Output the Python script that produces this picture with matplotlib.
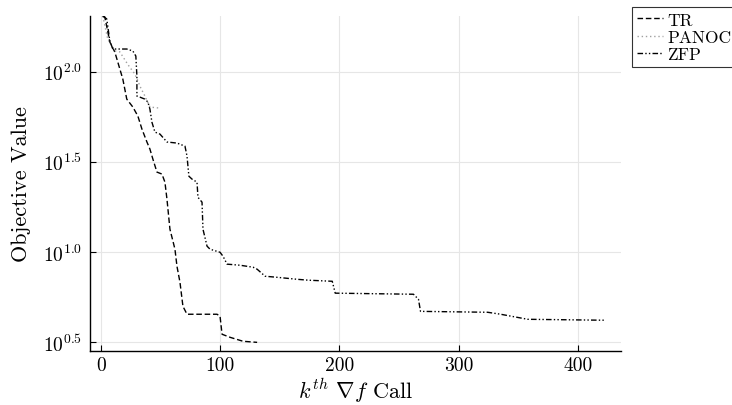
import numpy as np
import matplotlib
matplotlib.use("Agg")
import matplotlib.pyplot as plt

plt.rcParams['font.family'] = ['cmr10', 'DejaVu Serif']
plt.rcParams['mathtext.fontset'] = 'cm'
plt.rcParams['axes.formatter.use_mathtext'] = True

# ---- data (k-th gradient call, log10 objective value) ----
tr_x = [1.7, 3.4, 7.6, 11.8, 18.5, 21.8, 26.9, 31.1, 34.5, 38.7, 41.2, 43.7, 47.1,
        51.3, 53.8, 55.5, 58.0, 62.2, 63.9, 66.4, 68.9, 72.3, 97.5, 100, 101.7,
        108.4, 119.3, 131.1]
tr_logy = [2.309, 2.304, 2.165, 2.109, 1.959, 1.848, 1.804, 1.754, 1.682, 1.610,
           1.571, 1.515, 1.443, 1.432, 1.387, 1.293, 1.126, 1.015, 0.920, 0.832,
           0.698, 0.654, 0.654, 0.643, 0.543, 0.526, 0.504, 0.498]

panoc_x = [1.7, 5.9, 11.8, 16, 22.7, 28.6, 31.1, 32.8, 37, 41.2, 49.6]
panoc_logy = [2.309, 2.18, 2.115, 2.11, 2.04, 1.987, 1.95, 1.92, 1.865, 1.804, 1.798]

zfp_x = [1.7, 5.0, 7.6, 10.1, 14.3, 21.8, 26.9, 29.4, 30.3, 30.3, 32.8, 37, 39.5,
         41.2, 42.9, 45.4, 49.6, 55.5, 63.9, 70.6, 72.3, 73.9, 76.5, 80.7, 81.5,
         84.9, 85.7, 89.1, 91.6, 100, 102.5, 105.9, 116.8, 127.7, 131.1, 137.8,
         147.9, 164.7, 174, 194.1, 196.6, 262.2, 266.4, 268.1, 324.4, 335.3, 358,
         419.3, 423.5]
zfp_logy = [2.309, 2.293, 2.171, 2.126, 2.126, 2.126, 2.115, 2.087, 1.976, 1.865,
            1.859, 1.848, 1.832, 1.793, 1.72, 1.665, 1.654, 1.61, 1.604, 1.587,
            1.532, 1.42, 1.404, 1.387, 1.303, 1.276, 1.126, 1.032, 1.015, 0.998,
            0.976, 0.932, 0.926, 0.915, 0.904, 0.865, 0.859, 0.848, 0.843, 0.837,
            0.771, 0.765, 0.737, 0.670, 0.665, 0.654, 0.626, 0.621, 0.621]

xticks = [0, 100, 200, 300, 400]
ytick_exps = [0.5, 1.0, 1.5, 2.0]
ytick_labels = [r"$10^{0.5}$", r"$10^{1.0}$", r"$10^{1.5}$", r"$10^{2.0}$"]

fig = plt.figure(figsize=(7.32, 4.06), dpi=100)
ax = fig.add_axes([0.123, 0.133, 0.725, 0.825])

ax.plot(tr_x, 10 ** np.array(tr_logy), color='black', lw=1.0,
        linestyle=(0, (4, 2)), label='TR')
ax.plot(panoc_x, 10 ** np.array(panoc_logy), color='#a0a0a0', lw=1.0,
        linestyle=(0, (1, 2)), label='PANOC')
ax.plot(zfp_x, 10 ** np.array(zfp_logy), color='black', lw=1.0,
        linestyle=(0, (4, 1.6, 1, 1.6, 1, 1.6)), label='ZFP')

ax.set_yscale('log')
ax.set_xlim(-9, 436)
ax.set_ylim(10 ** 0.45, 10 ** 2.309)
ax.set_xticks(xticks)
ax.set_xticklabels([str(t) for t in xticks])
ax.set_yticks(10 ** np.array(ytick_exps))
ax.set_yticklabels(ytick_labels)
ax.yaxis.set_minor_locator(matplotlib.ticker.NullLocator())

ax.grid(True, color='#e6e6e6', lw=0.8)
ax.set_axisbelow(True)
for s in ['top', 'right']:
    ax.spines[s].set_visible(False)
for s in ['left', 'bottom']:
    ax.spines[s].set_linewidth(1.0)
ax.tick_params(direction='in', length=4, width=0.8, labelsize=14)
ax.tick_params(axis='x', pad=4)
ax.tick_params(axis='y', pad=6)

ax.set_xlabel(r"$k^{th}$ $\nabla f$ Call", fontsize=16)
ax.xaxis.set_label_coords(0.5, -0.072, transform=ax.transAxes)
ax.xaxis.label.set_verticalalignment('top')
ax.set_ylabel("Objective Value", fontsize=16, labelpad=8)

leg = ax.legend(loc='upper left', bbox_to_anchor=(1.021, 1.027), fontsize=12.5,
                frameon=True, fancybox=False, edgecolor='black', handlelength=1.5,
                handletextpad=0.25, borderpad=0.3, labelspacing=0.1, borderaxespad=0)
leg.get_frame().set_linewidth(0.8)

fig.savefig('out.png', dpi=100)
